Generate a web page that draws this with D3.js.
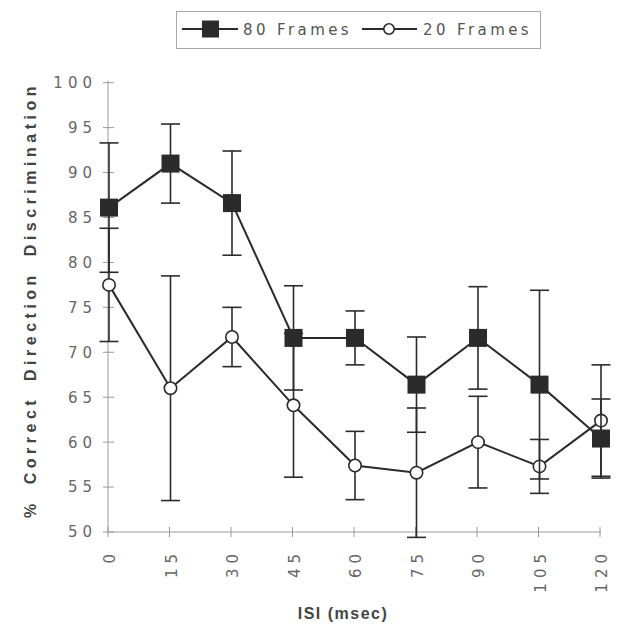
<!DOCTYPE html>
<meta charset="utf-8">
<script src="https://d3js.org/d3.v7.min.js"></script>
<style>
	body{
		margin:0;
		background:#fff;
	}
	.tickLabel{
		font-family:'DejaVu Sans', sans-serif;
		font-size:15px;
		fill:#666;
		letter-spacing:5px;
	}
	.legendText{
		font-family:'DejaVu Sans', sans-serif;
		font-size:15px;
		fill:#555;
		letter-spacing:3.4px;
	}
	.axisTitle{
		font-family:'Liberation Sans', Arial, sans-serif;
		font-weight:bold;
		font-size:16px;
		fill:#444;
	}
</style>
<div id="chart"></div>
<script>
	// ISI in msec
	var isi = [0,15,30,45,60,75,90,105,120]
	// % correct, 80 frames (filled squares) and error bar half-lengths
	var frames80 = [86.1,91.0,86.6,71.6,71.6,66.4,71.6,66.4,60.4]
	var err80 = [7.2,4.4,5.8,5.8,3.0,5.3,5.7,10.5,4.4]
	// % correct, 20 frames (open circles)
	var frames20 = [77.5,66.0,71.7,64.1,57.4,56.6,60.0,57.3,62.4]
	var err20 = [6.3,12.5,3.3,8.0,3.8,7.2,5.1,3.0,6.2]
	var yTicks = [50,55,60,65,70,75,80,85,90,95,100]
	var seriesNames = ["80 Frames","20 Frames"]

	var w = 618
	var h = 625
	var ink = "#2b2b2b"
	var axisGray = "#9a9a9a"

	var svg = d3.select("#chart").append("svg").attr("width",w).attr("height",h)

	var x = d3.scaleLinear().domain([0,120]).range([109,601])
	var y = d3.scaleLinear().domain([50,100]).range([532,82.7])

	// axes
	svg.append("line").attr("x1",x(0)-1).attr("x2",x(0)-1).attr("y1",y(100)-2).attr("y2",y(50))
		.attr("stroke",axisGray).attr("stroke-width",1)
	svg.append("line").attr("x1",x(0)-1).attr("x2",x(120)).attr("y1",y(50)).attr("y2",y(50))
		.attr("stroke",axisGray).attr("stroke-width",1)

	for(var i in yTicks){
		var t = yTicks[i]
		svg.append("line").attr("x1",x(0)-6).attr("x2",x(0)+5).attr("y1",y(t)).attr("y2",y(t))
			.attr("stroke",axisGray)
		svg.append("text").attr("class","tickLabel")
			.attr("x",x(0)-12).attr("y",y(t)).attr("dy","0.36em")
			.attr("text-anchor","end").text(t)
	}
	for(var i in isi){
		var t = isi[i]
		svg.append("line").attr("x1",x(t)-1).attr("x2",x(t)-1).attr("y1",y(50)-5).attr("y2",y(50)+5)
			.attr("stroke",axisGray)
		svg.append("text").attr("class","tickLabel")
			.attr("transform","translate("+(x(t)+1)+","+(y(50)+17)+") rotate(-90)")
			.attr("dy","0.36em").attr("text-anchor","end").text(t)
	}

	svg.append("text").attr("class","axisTitle").text("ISI (msec)")
		.attr("x",343).attr("y",619).attr("text-anchor","middle")
		.style("letter-spacing","1.5px")
	svg.append("text").attr("class","axisTitle").text("% Correct Direction Discrimination")
		.attr("transform","translate(36,300) rotate(-90)").attr("text-anchor","middle")
		.style("letter-spacing","4.5px").style("word-spacing","6px")

	function drawSeries(vals,errs,shape){
		var pts = isi.map(function(d,i){return {x:d,v:vals[i],e:errs[i]}})
		var g = svg.append("g")
		var bars = g.selectAll(".bar").data(pts).join("g")
		bars.append("line").attr("x1",d=>x(d.x)).attr("x2",d=>x(d.x))
			.attr("y1",d=>y(d.v+d.e)).attr("y2",d=>y(d.v-d.e))
			.attr("stroke",ink).attr("stroke-width",1.6)
		bars.append("line").attr("x1",d=>x(d.x)-9.5).attr("x2",d=>x(d.x)+9.5)
			.attr("y1",d=>y(d.v+d.e)).attr("y2",d=>y(d.v+d.e))
			.attr("stroke",ink).attr("stroke-width",1.6)
		bars.append("line").attr("x1",d=>x(d.x)-9.5).attr("x2",d=>x(d.x)+9.5)
			.attr("y1",d=>y(d.v-d.e)).attr("y2",d=>y(d.v-d.e))
			.attr("stroke",ink).attr("stroke-width",1.6)
		g.append("path").datum(pts)
			.attr("d",d3.line().x(d=>x(d.x)).y(d=>y(d.v)))
			.attr("fill","none").attr("stroke",ink).attr("stroke-width",2)
		if(shape=="square"){
			g.selectAll(".mark").data(pts).join("rect")
				.attr("x",d=>x(d.x)-9).attr("y",d=>y(d.v)-9).attr("width",18).attr("height",18)
				.attr("fill",ink)
		}else{
			g.selectAll(".mark").data(pts).join("circle")
				.attr("cx",d=>x(d.x)).attr("cy",d=>y(d.v)).attr("r",6.2)
				.attr("fill","#fff").attr("stroke",ink).attr("stroke-width",1.6)
		}
	}
	drawSeries(frames20,err20,"circle")
	drawSeries(frames80,err80,"square")

	// legend
	var lg = svg.append("g")
	lg.append("rect").attr("x",176.5).attr("y",11.5).attr("width",364).attr("height",37)
		.attr("fill","#fff").attr("stroke","#aaa")
	lg.append("line").attr("x1",182).attr("x2",238).attr("y1",29).attr("y2",29).attr("stroke",ink).attr("stroke-width",2)
	lg.append("rect").attr("x",202).attr("y",20.5).attr("width",17).attr("height",17).attr("fill",ink)
	lg.append("text").attr("class","legendText").attr("x",243).attr("y",35).text(seriesNames[0])
	lg.append("line").attr("x1",362).attr("x2",417).attr("y1",29).attr("y2",29).attr("stroke",ink).attr("stroke-width",2)
	lg.append("circle").attr("cx",389).attr("cy",29).attr("r",5.2).attr("fill","#fff").attr("stroke",ink).attr("stroke-width",1.6)
	lg.append("text").attr("class","legendText").attr("x",423).attr("y",35).text(seriesNames[1])
</script>
